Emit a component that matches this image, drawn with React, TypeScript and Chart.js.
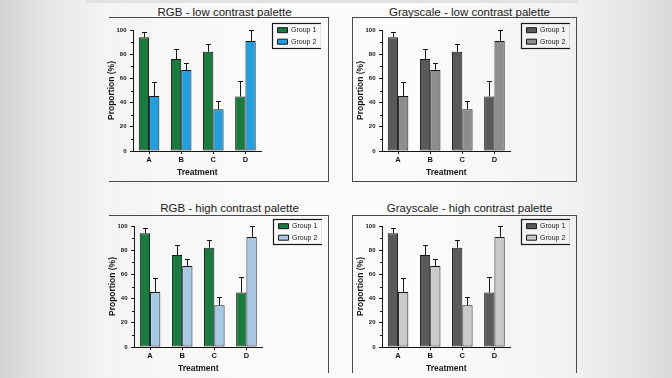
import React, { useEffect, useRef } from 'react';
import { Chart, registerables } from 'chart.js';

Chart.register(...registerables);

// ---------------- data ----------------
const categories = ['A', 'B', 'C', 'D'];
const seriesNames = ['Group 1', 'Group 2'];
const group1Values = [94, 76, 82, 45];
const group1Errors = [4.5, 8.5, 6.5, 12.5];
const group2Values = [45.5, 67, 34.5, 91];
const group2Errors = [11.5, 6, 7, 9];
const yRange = [0, 100];
const yLabelStep = 20;
const yMinorStep = 10;
const yAxisTitle = 'Proportion (%)';
const xAxisTitle = 'Treatment';
const panelTitles = [
  'RGB - low contrast palette',
  'Grayscale - low contrast palette',
  'RGB - high contrast palette',
  'Grayscale - high contrast palette',
];

// ---------------- styles ----------------
const FONT = '"Liberation Sans", Arial, Helvetica, sans-serif';
const INK = '#161616';
const FRAME = '#4a4a4a';
const palettes = [
  ['#1a7b3e', '#1fa0e1'],
  ['#5a5a5a', '#8d8d8d'],
  ['#1a7b3e', '#a8c9e6'],
  ['#5a5a5a', '#cacaca'],
];

const AXIS_W = 100; // width reserved for y axis inside canvas
const TOP_OFF = 10; // canvas top to chart-area top
const CW = 288;
const CH = 168;

const layouts = [
  { axisX: 133, chartTop: 30, titleCx: 224.5, titleTop: 7, frame: { left: 109, top: 17, width: 220, height: 165 }, sides: { t: 1, r: 1, b: 1, l: 0 } },
  { axisX: 382, chartTop: 30, titleCx: 469.5, titleTop: 7, frame: { left: 352, top: 17, width: 225, height: 165 }, sides: { t: 1, r: 1, b: 1, l: 1 } },
  { axisX: 134, chartTop: 226, titleCx: 229.5, titleTop: 202.5, frame: { left: 109, top: 215, width: 220, height: 158 }, sides: { t: 1, r: 1, b: 0, l: 0 } },
  { axisX: 382, chartTop: 226, titleCx: 469.5, titleTop: 202.5, frame: { left: 352, top: 215, width: 225, height: 158 }, sides: { t: 1, r: 1, b: 0, l: 1 } },
];

const decorPlugin = {
  id: 'decor',
  afterDatasetsDraw(chart: any) {
    const ctx = chart.ctx;
    const y = chart.scales.y;
    ctx.save();
    ctx.strokeStyle = INK;
    ctx.lineWidth = 1;
    chart.data.datasets.forEach((ds: any, di: number) => {
      const meta = chart.getDatasetMeta(di);
      meta.data.forEach((el: any, i: number) => {
        const top = Math.round(y.getPixelForValue(ds.data[i] + ds.errorValues[i])) + 0.5;
        const x = Math.round(el.x) + 0.5;
        ctx.beginPath();
        ctx.moveTo(x, el.y);
        ctx.lineTo(x, top);
        ctx.moveTo(x - 2.5, top);
        ctx.lineTo(x + 2.5, top);
        ctx.stroke();
      });
    });
    // minor ticks on y axis
    ctx.beginPath();
    y.ticks.forEach((t: any) => {
      if (t.value % yLabelStep !== 0) {
        const py = Math.round(y.getPixelForValue(t.value)) + 0.5;
        ctx.moveTo(y.right - 2, py);
        ctx.lineTo(y.right, py);
      }
    });
    ctx.stroke();
    ctx.restore();
  },
  afterDraw(chart: any) {
    const boxes = chart.legend && chart.legend.legendHitBoxes;
    if (!boxes || !boxes.length) return;
    let l = Infinity, r = -Infinity, t = Infinity, b = -Infinity;
    boxes.forEach((h: any) => {
      l = Math.min(l, h.left);
      r = Math.max(r, h.left + h.width);
      t = Math.min(t, h.top);
      b = Math.max(b, h.top + h.height);
    });
    const ctx = chart.ctx;
    ctx.save();
    ctx.strokeStyle = INK;
    ctx.lineWidth = 1.2;
    ctx.strokeRect(Math.round(l - 6) + 0.5, Math.round(t - 3.5) + 0.5, Math.round(r - l + 10), Math.round(b - t + 6.5));
    ctx.restore();
  },
};

function ChartPanel({ index }: { index: number }) {
  const ref = useRef<HTMLCanvasElement>(null);
  const L = layouts[index];
  const colors = palettes[index];
  useEffect(() => {
    const canvas = ref.current;
    if (!canvas) return;
    const chart = new Chart(canvas, {
      type: 'bar',
      data: {
        labels: categories,
        datasets: [
          {
            label: seriesNames[0],
            data: group1Values,
            errorValues: group1Errors,
            backgroundColor: colors[0],
            borderColor: INK,
            borderWidth: 1,
            borderSkipped: false,
            categoryPercentage: 0.64,
            barPercentage: 1,
            xAxisID: 'x',
            yAxisID: 'y',
          } as any,
          {
            label: seriesNames[1],
            data: group2Values,
            errorValues: group2Errors,
            backgroundColor: colors[1],
            borderColor: INK,
            borderWidth: 1,
            borderSkipped: false,
            categoryPercentage: 0.64,
            barPercentage: 1,
            xAxisID: 'x',
            yAxisID: 'y',
          } as any,
        ],
      },
      options: {
        responsive: false,
        maintainAspectRatio: false,
        animation: false,
        devicePixelRatio: 1,
        events: [],
        layout: { padding: { top: 2.2, left: 0, right: 0, bottom: 0 } },
        plugins: {
          tooltip: { enabled: false },
          title: {
            display: true,
            text: ' ',
            fullSize: false,
            font: { size: 1, lineHeight: 1.2 },
            padding: { top: 0, bottom: 6.6 },
          },
          legend: {
            display: true,
            position: 'right',
            align: 'start',
            labels: {
              boxWidth: 10,
              boxHeight: 5,
              padding: 4.5,
              color: INK,
              font: { family: FONT, size: 7 },
            },
          },
        },
        scales: {
          x: {
            type: 'category',
            offset: true,
            grid: { display: true, drawOnChartArea: false, drawTicks: true, tickLength: 3, tickColor: INK, tickWidth: 1, offset: false },
            border: { display: true, color: INK, width: 1 },
            ticks: { color: INK, font: { family: FONT, size: 7.5, weight: 'bold' }, padding: 1.5, autoSkip: false, maxRotation: 0 },
            title: { display: true, text: xAxisTitle, color: INK, font: { family: FONT, size: 8.5, weight: 'bold' }, padding: { top: 0, bottom: 9.9 } },
            afterFit: (s: any) => { s.height = CH - TOP_OFF - 121; },
          },
          y: {
            type: 'linear',
            position: 'left',
            min: yRange[0],
            max: yRange[1],
            grid: {
              display: true,
              drawOnChartArea: false,
              drawTicks: true,
              tickLength: 3,
              tickWidth: 1,
              tickColor: (c: any) => (c.tick && c.tick.value % yLabelStep === 0 ? INK : 'rgba(0,0,0,0)'),
            },
            border: { display: true, color: INK, width: 1 },
            ticks: {
              stepSize: yMinorStep,
              autoSkip: false,
              padding: 3.5,
              color: INK,
              font: { family: FONT, size: 6, weight: 'bold' },
              callback: (v: any) => (Number(v) % yLabelStep === 0 ? String(v) : ''),
            },
            title: { display: true, text: yAxisTitle, color: INK, font: { family: FONT, size: 8.5, weight: 'bold' }, padding: { top: AXIS_W - 21 - 5.1, bottom: 0 } },
            afterFit: (s: any) => { s.width = AXIS_W; },
          },
          yPad: {
            type: 'linear',
            position: 'right',
            display: true,
            grid: { display: false },
            border: { display: false },
            ticks: { display: false },
            afterFit: (s: any) => { s.width = 11.5; },
          },
        },
      } as any,
      plugins: [decorPlugin],
    });
    return () => chart.destroy();
  }, [index]);
  return (
    <canvas
      ref={ref}
      width={CW}
      height={CH}
      style={{ position: 'absolute', left: L.axisX - AXIS_W, top: L.chartTop - TOP_OFF, width: CW, height: CH }}
    />
  );
}

export default function App() {
  return (
    <div
      style={{
        position: 'fixed',
        left: 0,
        top: 0,
        width: 672,
        height: 378,
        overflow: 'hidden',
        background:
          'linear-gradient(90deg, #d3d3d3 0%, #e6e6e6 7%, #f4f4f4 16%, #fbfbfb 40%, #fbfbfb 62%, #f3f3f3 84%, #e6e6e6 93%, #d9d9d9 100%)',
        fontFamily: FONT,
      }}
    >
      <div style={{ position: 'absolute', left: 86, top: 0, width: 492, height: 3, background: '#e2e2e2' }} />
      {layouts.map((L, i) => (
        <div
          key={'f' + i}
          style={{
            position: 'absolute',
            left: L.frame.left,
            top: L.frame.top,
            width: L.frame.width,
            height: L.frame.height,
            boxSizing: 'border-box',
            borderTop: L.sides.t ? `1px solid ${FRAME}` : 'none',
            borderRight: L.sides.r ? `1px solid ${FRAME}` : 'none',
            borderBottom: L.sides.b ? `1px solid ${FRAME}` : 'none',
            borderLeft: L.sides.l ? `1px solid ${FRAME}` : 'none',
          }}
        />
      ))}
      {layouts.map((L, i) => (
        <div
          key={'t' + i}
          style={{
            position: 'absolute',
            left: L.titleCx - 150,
            top: L.titleTop,
            width: 300,
            textAlign: 'center',
            fontSize: 11.5,
            lineHeight: '11.5px',
            color: '#1a1a1a',
            whiteSpace: 'nowrap',
          }}
        >
          {panelTitles[i]}
        </div>
      ))}
      {layouts.map((_, i) => (
        <ChartPanel key={'c' + i} index={i} />
      ))}
    </div>
  );
}
